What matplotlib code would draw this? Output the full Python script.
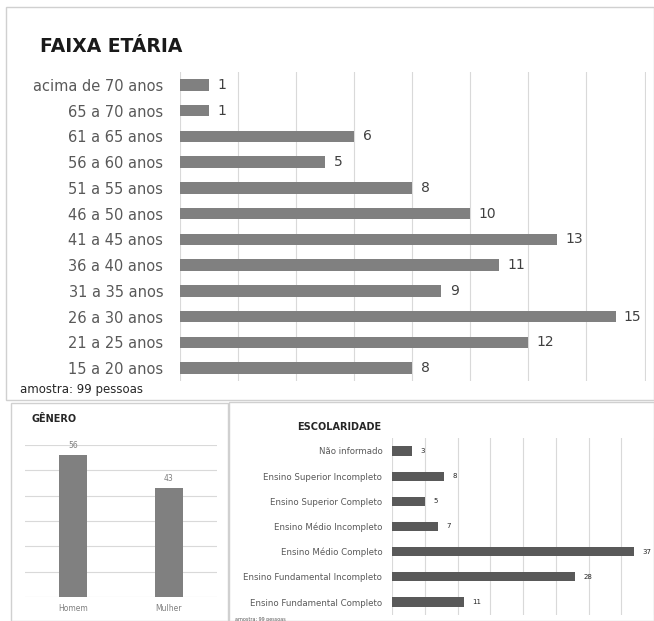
import matplotlib
matplotlib.use("Agg")
import matplotlib.pyplot as plt
from matplotlib.patches import Rectangle

# ---- data ----
idade_cats = ["15 a 20 anos", "21 a 25 anos", "26 a 30 anos", "31 a 35 anos",
              "36 a 40 anos", "41 a 45 anos", "46 a 50 anos", "51 a 55 anos",
              "56 a 60 anos", "61 a 65 anos", "65 a 70 anos", "acima de 70 anos"]
idade_vals = [8, 12, 15, 9, 11, 13, 10, 8, 5, 6, 1, 1]

genero_cats = ["Homem", "Mulher"]
genero_vals = [56, 43]

escol_cats = ["Ensino Fundamental Completo", "Ensino Fundamental Incompleto",
              "Ensino Médio Completo", "Ensino Médio Incompleto",
              "Ensino Superior Completo", "Ensino Superior Incompleto",
              "Não informado"]
escol_vals = [11, 28, 37, 7, 5, 8, 3]

W, H = 654, 621
plt.rcParams['font.family'] = ['DejaVu Sans']
fig = plt.figure(figsize=(W / 100, H / 100), dpi=100)

def fx(x):
    return x / W

def fy(y):
    return 1 - y / H

def axes_px(x0, y0, x1, y1):
    return fig.add_axes([fx(x0), fy(y1), (x1 - x0) / W, (y1 - y0) / H])

grid_c = "#d9d9d9"
border_c = "#d0d0d0"
txt_c = "#595959"

# panel borders
for (x0, y0, x1, y1) in [(6, 7, 653.5, 400), (11, 403, 228, 621), (229, 402, 653.5, 621)]:
    fig.patches.append(Rectangle((fx(x0), fy(y1)), (x1 - x0) / W, (y1 - y0) / H,
                                 transform=fig.transFigure, fill=False,
                                 edgecolor=border_c, linewidth=1.0))

# ---- FAIXA ETÁRIA ----
ax1 = axes_px(180, 72, 646, 381)
ypos = list(range(len(idade_cats)))
ax1.barh(ypos, idade_vals, height=0.45, color="#808080", zorder=3)
ax1.set_xlim(0, 16.05)
ax1.set_ylim(-0.5, len(idade_cats) - 0.5)
ax1.set_xticks(range(0, 17, 2))
ax1.set_xticklabels([])
ax1.tick_params(axis='x', length=0)
ax1.tick_params(axis='y', length=0, pad=12, labelsize=10.5, labelcolor=txt_c)
ax1.set_yticks(ypos)
ax1.set_yticklabels(idade_cats)
ax1.grid(axis='x', color=grid_c, linewidth=0.8, zorder=0)
for s in ax1.spines.values():
    s.set_visible(False)
for y, v in zip(ypos, idade_vals):
    ax1.annotate(str(v), (v, y), xytext=(6, 0), textcoords='offset points',
                 va='center', ha='left', fontsize=10, color="#404040")
fig.text(fx(40), fy(47), "FAIXA ETÁRIA", fontsize=13.5, fontweight='bold',
         color="#1a1a1a", va='center', ha='left')
fig.text(fx(20), fy(390), "amostra: 99 pessoas", fontsize=8.5,
         color="#262626", va='center', ha='left')

# ---- GÊNERO ----
ax2 = axes_px(25, 445, 217, 597)
xpos = list(range(len(genero_cats)))
ax2.bar(xpos, genero_vals, width=0.3, color="#808080", zorder=3)
ax2.set_xlim(-0.5, len(genero_cats) - 0.5)
ax2.set_ylim(0, 60)
ax2.set_yticks(range(0, 61, 10))
ax2.set_yticklabels([])
ax2.set_xticks(xpos)
ax2.set_xticklabels(genero_cats)
ax2.tick_params(axis='both', length=0)
ax2.tick_params(axis='x', labelsize=5.5, labelcolor="#7f7f7f", pad=5)
ax2.grid(axis='y', color=grid_c, linewidth=0.8, zorder=0)
for s in ax2.spines.values():
    s.set_visible(False)
for x, v in zip(xpos, genero_vals):
    ax2.annotate(str(v), (x, v), xytext=(0, 4), textcoords='offset points',
                 va='bottom', ha='center', fontsize=5.5, color="#7f7f7f")
fig.text(fx(32), fy(419), "GÊNERO", fontsize=7, fontweight='bold',
         color="#262626", va='center', ha='left')

# ---- ESCOLARIDADE ----
ax3 = axes_px(392, 438.4, 654, 614.6)
ypos3 = list(range(len(escol_cats)))
ax3.barh(ypos3, escol_vals, height=0.36, color="#595959", zorder=3)
ax3.set_xlim(0, 40)
ax3.set_ylim(-0.5, len(escol_cats) - 0.5)
ax3.set_xticks(range(0, 41, 5))
ax3.set_xticklabels([])
ax3.set_yticks(ypos3)
ax3.set_yticklabels(escol_cats)
ax3.tick_params(axis='both', length=0)
ax3.tick_params(axis='y', labelsize=6.2, labelcolor=txt_c, pad=7)
ax3.grid(axis='x', color=grid_c, linewidth=0.8, zorder=0)
for s in ax3.spines.values():
    s.set_visible(False)
for y, v in zip(ypos3, escol_vals):
    ax3.annotate(str(v), (v, y), xytext=(6, 0), textcoords='offset points',
                 va='center', ha='left', fontsize=5, color="#262626")
fig.text(fx(297), fy(427), "ESCOLARIDADE", fontsize=7, fontweight='bold',
         color="#262626", va='center', ha='left')
fig.text(fx(235), fy(619), "amostra: 99 pessoas", fontsize=3.5,
         color=txt_c, va='center', ha='left')

fig.savefig("out.png", dpi=100)
